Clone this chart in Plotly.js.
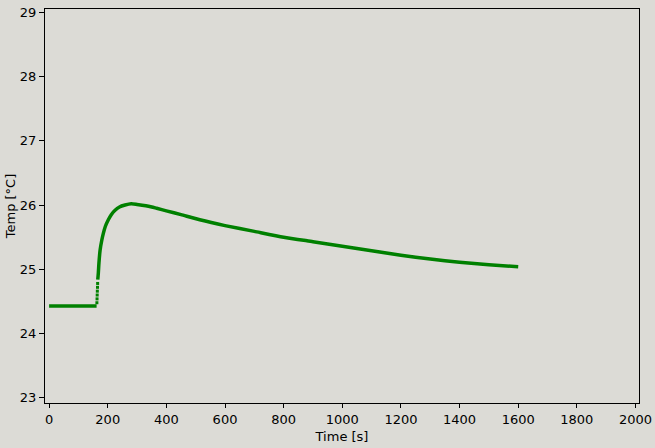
<!DOCTYPE html>
<html>
<head>
<meta charset="utf-8">
<script src="https://cdn.plot.ly/plotly-3.0.1.min.js"></script>
<style>html,body{margin:0;padding:0;background:#dcdbd6;}#chart{width:655px;height:448px;}</style>
</head>
<body>
<div id="chart"></div>
<script>
// Baseline before heating
const baseTime = [0, 40, 80, 120, 162];
const baseTemp = [24.43, 24.43, 24.43, 24.43, 24.43];
// Sparse samples during the step
const stepTime = [163, 163.5, 164, 164.5, 165, 165.5];
const stepTemp = [24.48, 24.54, 24.60, 24.66, 24.72, 24.78];
// Rise and decay
const curveTime = [166, 168, 170, 174, 180, 185, 192, 202, 212, 225, 240, 259, 280, 300, 330, 350, 367, 400, 450, 514, 600, 700, 800, 900, 1000, 1100, 1200, 1300, 1400, 1500, 1600];
const curveTemp = [24.84, 24.95, 25.10, 25.30, 25.46, 25.56, 25.67, 25.77, 25.85, 25.92, 25.97, 26.00, 26.02, 26.01, 25.99, 25.97, 25.95, 25.91, 25.85, 25.77, 25.68, 25.59, 25.50, 25.43, 25.36, 25.29, 25.22, 25.16, 25.11, 25.07, 25.04];
const xTicks = [0, 200, 400, 600, 800, 1000, 1200, 1400, 1600, 1800, 2000];
const yTicks = [23, 24, 25, 26, 27, 28, 29];

const green = '#008000';
const traces = [
  {x: baseTime, y: baseTemp, mode: 'lines', line: {color: green, width: 3.5}, hoverinfo: 'none'},
  {x: stepTime, y: stepTemp, mode: 'markers', marker: {color: green, size: 3, symbol: 'square'}, hoverinfo: 'none'},
  {x: curveTime, y: curveTemp, mode: 'lines', line: {color: green, width: 3.5, shape: 'spline', smoothing: 0.6}, hoverinfo: 'none'}
];
const font = {family: 'DejaVu Sans', size: 13, color: '#000'};
const layout = {
  width: 655, height: 448,
  margin: {l: 45, r: 16, t: 9, b: 45},
  paper_bgcolor: '#dcdbd6', plot_bgcolor: '#dcdbd6',
  showlegend: false,
  font: font,
  xaxis: {
    range: [-14, 2012], tickvals: xTicks, ticktext: xTicks.map(String),
    showgrid: false, zeroline: false, showline: true, mirror: true,
    linecolor: '#000', linewidth: 1, ticks: 'outside', ticklen: 4, tickcolor: '#000',
    tickfont: font, title: {text: 'Time [s]', font: font, standoff: 6}
  },
  yaxis: {
    range: [22.92, 29.05], tickvals: yTicks, ticktext: yTicks.map(String),
    showgrid: false, zeroline: false, showline: true, mirror: true,
    linecolor: '#000', linewidth: 1, ticks: 'outside', ticklen: 5, tickcolor: '#000',
    tickfont: font, title: {text: 'Temp [°C]', font: font, standoff: 1}
  }
};
Plotly.newPlot('chart', traces, layout, {displayModeBar: false, staticPlot: true});
</script>
</body>
</html>
